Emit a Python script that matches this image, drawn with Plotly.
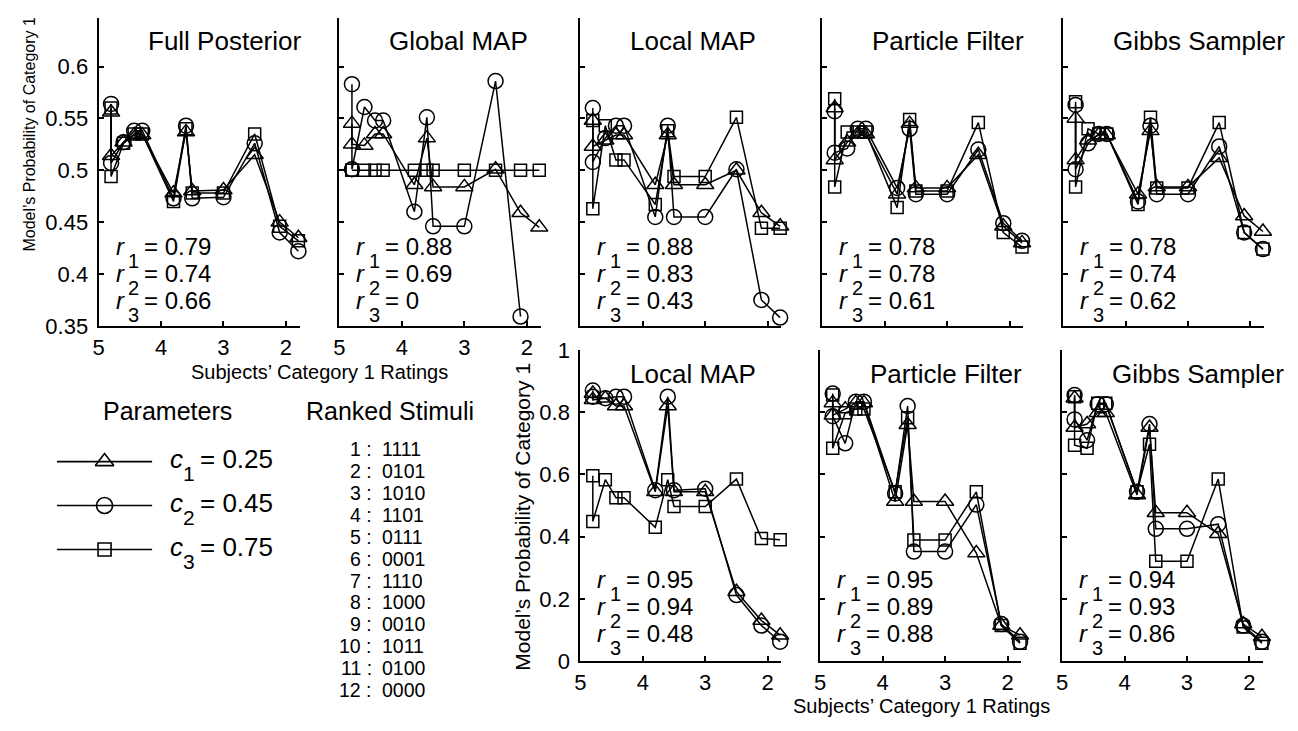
import plotly.graph_objects as go

# ---------------- data ----------------
ratings = [4.8, 4.8, 4.6, 4.43, 4.3, 3.8, 3.6, 3.5, 3.0, 2.5, 2.1, 1.8]

full_c1 = [0.556, 0.514, 0.527, 0.534, 0.534, 0.478, 0.537, 0.480, 0.481, 0.515, 0.450, 0.435]
full_c2 = [0.564, 0.507, 0.527, 0.538, 0.538, 0.473, 0.543, 0.473, 0.474, 0.526, 0.440, 0.422]
full_c3 = [0.560, 0.494, 0.526, 0.535, 0.535, 0.470, 0.540, 0.478, 0.478, 0.535, 0.446, 0.432]

global_c1 = [0.545, 0.525, 0.524, 0.535, 0.535, 0.486, 0.531, 0.484, 0.484, 0.501, 0.459, 0.445]
global_c2 = [0.583, 0.501, 0.561, 0.548, 0.548, 0.460, 0.551, 0.446, 0.446, 0.586, 0.359, None]
global_c3 = [0.500, 0.500, 0.500, 0.500, 0.500, 0.500, 0.500, 0.500, 0.500, 0.500, 0.500, 0.500]

localtop_c1 = [0.548, 0.523, 0.529, 0.534, 0.534, 0.486, 0.534, 0.486, 0.486, 0.500, 0.459, 0.446]
localtop_c2 = [0.560, 0.508, 0.531, 0.543, 0.543, 0.455, 0.543, 0.455, 0.455, 0.501, 0.375, 0.358]
localtop_c3 = [0.548, 0.463, 0.543, 0.510, 0.510, 0.467, 0.538, 0.494, 0.494, 0.551, 0.444, 0.444]

pftop_c1 = [0.560, 0.510, 0.527, 0.535, 0.535, 0.477, 0.545, 0.483, 0.483, 0.515, 0.446, 0.430]
pftop_c2 = [0.557, 0.517, 0.521, 0.540, 0.540, 0.483, 0.540, 0.477, 0.477, 0.520, 0.449, 0.432]
pftop_c3 = [0.569, 0.484, 0.537, 0.537, 0.537, 0.464, 0.549, 0.480, 0.480, 0.546, 0.440, 0.426]

gibbstop_c1 = [0.550, 0.510, 0.529, 0.534, 0.534, 0.477, 0.538, 0.484, 0.484, 0.512, 0.456, 0.441]
gibbstop_c2 = [0.563, 0.501, 0.526, 0.535, 0.535, 0.470, 0.543, 0.477, 0.477, 0.523, 0.440, 0.424]
gibbstop_c3 = [0.566, 0.484, 0.540, 0.535, 0.535, 0.467, 0.551, 0.483, 0.483, 0.546, 0.440, 0.424]

localbot_c1 = [0.860, 0.840, 0.845, 0.820, 0.820, 0.544, 0.820, 0.544, 0.544, 0.223, 0.130, 0.083]
localbot_c2 = [0.870, 0.850, 0.845, 0.850, 0.850, 0.549, 0.850, 0.549, 0.554, 0.212, 0.114, 0.062]
localbot_c3 = [0.596, 0.449, 0.583, 0.525, 0.525, 0.430, 0.583, 0.497, 0.497, 0.585, 0.394, 0.390]

pfbot_c1 = [0.830, 0.790, 0.810, 0.830, 0.830, 0.513, 0.760, 0.513, 0.513, 0.347, 0.114, 0.083]
pfbot_c2 = [0.860, 0.787, 0.700, 0.834, 0.834, 0.539, 0.820, 0.352, 0.352, 0.503, 0.119, 0.062]
pfbot_c3 = [0.855, 0.684, 0.798, 0.810, 0.810, 0.544, 0.782, 0.389, 0.389, 0.544, 0.114, 0.057]

gibbsbot_c1 = [0.845, 0.751, 0.762, 0.798, 0.798, 0.534, 0.751, 0.477, 0.477, 0.409, 0.119, 0.078]
gibbsbot_c2 = [0.855, 0.777, 0.710, 0.826, 0.826, 0.544, 0.762, 0.425, 0.425, 0.440, 0.114, 0.062]
gibbsbot_c3 = [0.850, 0.694, 0.684, 0.829, 0.829, 0.544, 0.697, 0.321, 0.321, 0.585, 0.109, 0.057]

panel_titles = ["Full Posterior", "Global MAP", "Local MAP", "Particle Filter", "Gibbs Sampler",
                "Local MAP", "Particle Filter", "Gibbs Sampler"]
r_values = [["0.79", "0.74", "0.66"], ["0.88", "0.69", "0"], ["0.88", "0.83", "0.43"],
            ["0.78", "0.78", "0.61"], ["0.78", "0.74", "0.62"],
            ["0.95", "0.94", "0.48"], ["0.95", "0.89", "0.88"], ["0.94", "0.93", "0.86"]]

param_labels = ["0.25", "0.45", "0.75"]
stimuli_codes = ["1111", "0101", "1010", "1101", "0111", "0001", "1110", "1000", "0010", "1011", "0100", "0000"]

x_ticks = [5, 4, 3, 2]
top_yticks = [0.35, 0.4, 0.45, 0.5, 0.55, 0.6]
top_yticklabels = ["0.35", "0.4", "0.45", "0.5", "0.55", "0.6"]
bot_yticks = [0, 0.2, 0.4, 0.6, 0.8, 1]
bot_yticklabels = ["0", "0.2", "0.4", "0.6", "0.8", "1"]

panel_series = [
    (full_c1, full_c2, full_c3), (global_c1, global_c2, global_c3),
    (localtop_c1, localtop_c2, localtop_c3), (pftop_c1, pftop_c2, pftop_c3),
    (gibbstop_c1, gibbstop_c2, gibbstop_c3),
    (localbot_c1, localbot_c2, localbot_c3), (pfbot_c1, pfbot_c2, pfbot_c3),
    (gibbsbot_c1, gibbsbot_c2, gibbsbot_c3),
]

# ---------------- layout helpers ----------------
W, H = 1298, 731
FONT = "Liberation Sans, Arial, Helvetica, sans-serif"


def fx(px):
    return px / W


def fy(py):
    return 1 - py / H


def txt(text, x, y, size, xanchor="left", **kw):
    return dict(text=text, xref="paper", yref="paper", x=fx(x), y=fy(y), xanchor=xanchor,
                yanchor="middle", showarrow=False,
                font=dict(family=FONT, size=size, color="black"), **kw)


symbols = ["triangle-up-open", "circle-open", "square-open"]
sizes = [15, 15, 12]

lefts = [93, 335, 577, 820, 1062, 577, 818, 1061]
panel_w = 202
top_row = (6, 325)
bot_row = (350, 672)

fig = go.Figure()
annotations = []
layout_axes = {}

for i in range(8):
    n = i + 1
    xa = "x" if n == 1 else f"x{n}"
    ya = "y" if n == 1 else f"y{n}"
    is_top = i < 5
    ytop, ybot = top_row if is_top else bot_row
    left = lefts[i]
    for k in range(3):
        fig.add_trace(go.Scatter(
            x=ratings, y=panel_series[i][k], xaxis=xa, yaxis=ya,
            mode="lines+markers", cliponaxis=False, connectgaps=False,
            line=dict(color="black", width=1.5),
            marker=dict(symbol=symbols[k], size=sizes[k], color="black",
                        line=dict(color="black", width=1.5)),
            hoverinfo="skip",
        ))
    show_x_labels = (i in (0, 1)) or not is_top
    show_y_labels = i in (0, 5)
    axis_common = dict(showline=True, linecolor="black", linewidth=2, ticks="inside",
                       ticklen=5, tickwidth=1.5, tickcolor="black", showgrid=False,
                       zeroline=False, tickfont=dict(family=FONT, size=22, color="black"))
    layout_axes["xaxis" if n == 1 else f"xaxis{n}"] = dict(
        axis_common, domain=[fx(left), fx(left + panel_w)], range=[5, 1.78],
        tickvals=x_ticks, ticktext=[str(t) for t in x_ticks], showticklabels=show_x_labels,
        anchor=ya, ticklabelstandoff=1)
    layout_axes["yaxis" if n == 1 else f"yaxis{n}"] = dict(
        axis_common, domain=[fy(ybot), fy(ytop)],
        range=[0.35, 0.647] if is_top else [0, 1],
        tickvals=top_yticks if is_top else bot_yticks,
        ticktext=top_yticklabels if is_top else bot_yticklabels,
        showticklabels=show_y_labels, anchor=xa, ticklabelstandoff=4)

    annotations.append(txt(panel_titles[i], left + 48, 30 if is_top else 375, 26))
    base = [242, 270, 298] if is_top else [587, 615, 643]
    for k in range(3):
        annotations.append(txt("<i>r</i>", left + 15, base[k], 24, height=24))
        annotations.append(txt(str(k + 1), left + 28, base[k] + 15, 20, height=19))
        annotations.append(txt(f"= {r_values[i][k]}", left + 44, base[k], 24, height=24))

annotations.append(txt("Subjects’ Category 1 Ratings", 315, 373, 20, xanchor="center"))
annotations.append(txt("Subjects’ Category 1 Ratings", 920, 719, 20, xanchor="center"))
annotations.append(txt("Model’s Probability of Category 1", 24, 126, 16, xanchor="center", textangle=-90))
annotations.append(txt("Model’s Probability of Category 1", 519, 523, 21, xanchor="center", textangle=-90))

# ---------------- legend (Parameters) ----------------
layout_axes["xaxis9"] = dict(domain=[fx(51), fx(147)], range=[0, 1], visible=False, anchor="y9")
layout_axes["yaxis9"] = dict(domain=[fy(579.25), fy(442.75)], range=[3.5, 0.5], visible=False, anchor="x9")
row_y = [465.5, 511, 556.5]
for k in range(3):
    fig.add_trace(go.Scatter(x=[0, 1], y=[k + 1, k + 1], xaxis="x9", yaxis="y9", mode="lines",
                             line=dict(color="black", width=1.6), hoverinfo="skip"))
    fig.add_trace(go.Scatter(x=[0.5], y=[k + 1], xaxis="x9", yaxis="y9", mode="markers",
                             cliponaxis=False,
                             marker=dict(symbol=symbols[k], size=sizes[k] + 1, color="black",
                                         line=dict(color="black", width=1.6)), hoverinfo="skip"))
    annotations.append(txt("<i>c</i>", 163, row_y[k] - 3, 26, height=26))
    annotations.append(txt(str(k + 1), 176, row_y[k] + 12, 21, height=20))
    annotations.append(txt(f"= {param_labels[k]}", 193, row_y[k] - 3, 26, height=26))

annotations.append(txt("Parameters", 162, 413, 25, xanchor="center"))
annotations.append(txt("Ranked Stimuli", 386, 413, 25, xanchor="center"))

# ---------------- ranked stimuli list ----------------
for j, code in enumerate(stimuli_codes):
    yy = 452.7 + j * 22.66
    annotations.append(txt(f"{j + 1} :", 370, yy, 19.5, xanchor="right", height=20))
    annotations.append(txt(code, 376, yy, 19.5, height=20))

fig.update_layout(width=W, height=H, margin=dict(l=0, r=0, t=0, b=0),
                  paper_bgcolor="white", plot_bgcolor="white", showlegend=False,
                  font=dict(family=FONT, color="black"), annotations=annotations,
                  **layout_axes)

post = """
var de = document.documentElement, bd = document.body;
de.style.margin = '0'; de.style.overflow = 'hidden';
bd.style.margin = '0'; bd.style.overflow = 'hidden';
"""

fig.write_html("out.html", config={"displayModeBar": False}, post_script=post)
